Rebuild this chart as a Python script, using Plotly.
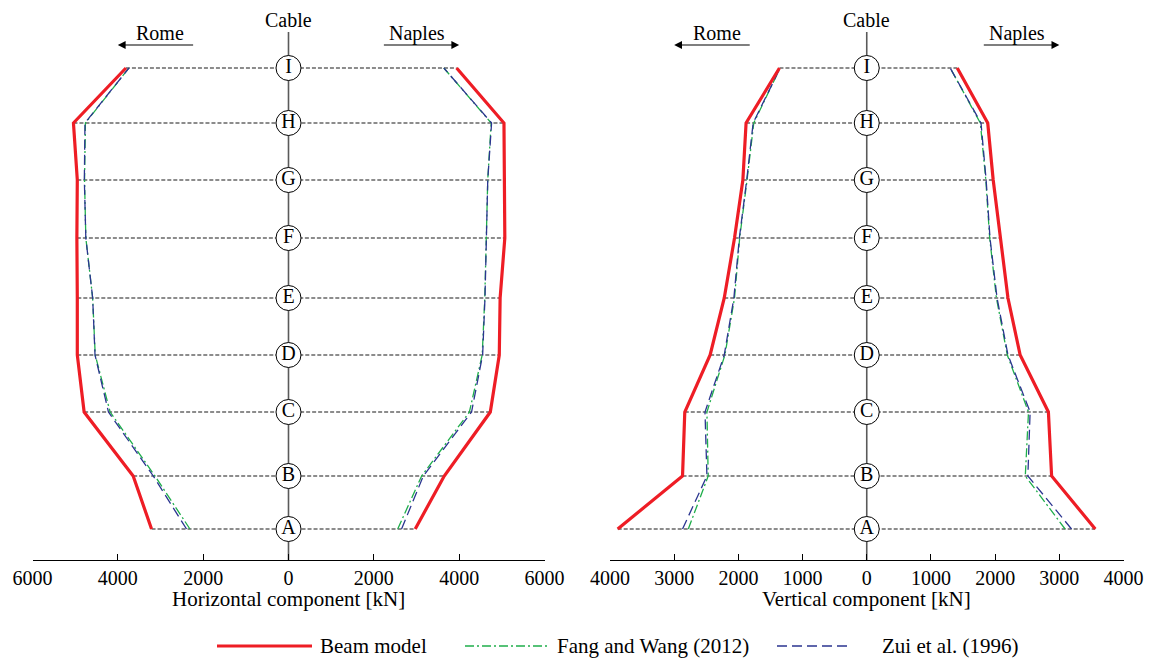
import plotly.graph_objects as go

# ---------------- data ----------------
cables = ["A", "B", "C", "D", "E", "F", "G", "H", "I"]
cable_height = [31, 84, 148, 205, 262, 322, 380, 437, 492]  # position along tower (arbitrary units)

# Horizontal component [kN]
beam_h_rome = [3210, 3640, 4790, 4950, 4950, 4960, 4950, 5040, 3810]
beam_h_naples = [2970, 3650, 4730, 4940, 4960, 5070, 5060, 5050, 3940]
fang_h_rome = [2310, 3130, 4180, 4530, 4590, 4750, 4780, 4760, 3740]
fang_h_naples = [2560, 3120, 4240, 4540, 4600, 4640, 4670, 4750, 3640]
zui_h_rome = [2390, 3170, 4220, 4535, 4590, 4750, 4785, 4770, 3740]
zui_h_naples = [2650, 3160, 4290, 4550, 4605, 4645, 4670, 4760, 3640]

# Vertical component [kN]
beam_v_rome = [3880, 2870, 2835, 2440, 2220, 2060, 1930, 1880, 1360]
beam_v_naples = [3560, 2880, 2830, 2390, 2200, 2080, 1970, 1885, 1410]
fang_v_rome = [2780, 2470, 2490, 2210, 2060, 1980, 1865, 1760, 1350]
fang_v_naples = [3090, 2470, 2520, 2190, 2020, 1915, 1855, 1770, 1300]
zui_v_rome = [2870, 2490, 2520, 2220, 2070, 1985, 1870, 1770, 1350]
zui_v_naples = [3190, 2510, 2545, 2200, 2030, 1920, 1860, 1780, 1300]

h_ticks = [-6000, -4000, -2000, 0, 2000, 4000, 6000]
v_ticks = [-4000, -3000, -2000, -1000, 0, 1000, 2000, 3000, 4000]

series_names = ["Beam model", "Fang and Wang (2012)", "Zui et al. (1996)"]

# ---------------- styles / layout ----------------
FONT = "Liberation Serif, Times New Roman, Times, serif"
FS = 20
FS_BIG = 21
RED = "#ee1d25"
GREEN = "#1fae4b"
BLUE = "#2b3590"
styles = [
    dict(color=RED, width=3.2, dash="solid"),
    dict(color=GREEN, width=1.3, dash="9px,3px,2px,3px"),
    dict(color=BLUE, width=1.3, dash="10px,5px"),
]
OFF = 8                      # page body margin of the html page
W, H = 1152 - OFF, 659 - OFF
PLOT_TOP = 32 - OFF
PLOT_BOTTOM = 560 - OFF
PLOT_H = PLOT_BOTTOM - PLOT_TOP
Y_TOP = PLOT_H


def px(page_x):
    return (page_x - OFF) / W


def py(page_y):
    return (PLOT_BOTTOM - (page_y - OFF)) / PLOT_H


fig = go.Figure()


def add_panel(xa, ya, beam_r, beam_n, fang_r, fang_n, zui_r, zui_n):
    for i, h in enumerate(cable_height):
        fig.add_trace(go.Scatter(
            x=[-beam_r[i], beam_n[i]], y=[h, h], mode="lines",
            line=dict(color="#1a1a1a", width=1.1, dash="4px,2px"),
            xaxis=xa, yaxis=ya, showlegend=False, hoverinfo="skip"))
    sets = [(beam_r, beam_n), (fang_r, fang_n), (zui_r, zui_n)]
    for k in [1, 2, 0]:
        r, n = sets[k]
        for side, vals in (("Rome", r), ("Naples", n)):
            sign = -1 if side == "Rome" else 1
            fig.add_trace(go.Scatter(
                x=[sign * v for v in vals], y=cable_height, mode="lines",
                line=styles[k], name=series_names[k], showlegend=False,
                xaxis=xa, yaxis=ya))
    fig.add_trace(go.Scatter(
        x=[0] * len(cables), y=cable_height, mode="markers+text",
        text=cables, textposition="middle center",
        textfont=dict(family=FONT, size=FS, color="black"),
        marker=dict(size=25, color="white", line=dict(color="black", width=1)),
        xaxis=xa, yaxis=ya, showlegend=False, hoverinfo="skip", cliponaxis=False))


add_panel("x", "y", beam_h_rome, beam_h_naples, fang_h_rome, fang_h_naples,
          zui_h_rome, zui_h_naples)
add_panel("x2", "y2", beam_v_rome, beam_v_naples, fang_v_rome, fang_v_naples,
          zui_v_rome, zui_v_naples)

axis_common = dict(
    showline=True, linecolor="black", linewidth=1, ticks="inside", ticklen=6,
    tickcolor="black", showgrid=False, zeroline=False, automargin=False,
    ticklabelstandoff=0,
    tickfont=dict(family=FONT, size=FS, color="black"),
)
fig.update_layout(
    width=W, height=H,
    margin=dict(l=0, r=0, t=PLOT_TOP, b=H - PLOT_BOTTOM, pad=0, autoexpand=False),
    paper_bgcolor="white", plot_bgcolor="white",
    font=dict(family=FONT, size=FS, color="black"),
    showlegend=False,
    xaxis=dict(domain=[px(32.5), px(544.5)], range=[-6000, 6000],
               tickvals=h_ticks, ticktext=[str(abs(t)) for t in h_ticks],
               anchor="y", **axis_common),
    xaxis2=dict(domain=[px(610), px(1123.5)], range=[-4000, 4000],
                tickvals=v_ticks, ticktext=[str(abs(t)) for t in v_ticks],
                anchor="y2", **axis_common),
    yaxis=dict(range=[0, Y_TOP], visible=False, anchor="x"),
    yaxis2=dict(range=[0, Y_TOP], visible=False, anchor="x2"),
)

shapes = []
annotations = []
for xa, ya, arrow_tip, arrow_tail, text_x in (
        ("x", "y", 4000, 2200, 3020),
        ("x2", "y2", 3000, 1800, 2340)):
    shapes.append(dict(type="line", xref=xa, yref=ya, x0=0, x1=0, y0=0, y1=Y_TOP,
                       line=dict(color="#5a5a5a", width=1.6), layer="below"))
    annotations.append(dict(xref=xa, yref="paper", x=0, y=py(20), yanchor="middle",
                            text="Cable", showarrow=False, font=dict(family=FONT, size=FS)))
    for sign, label in ((-1, "Rome"), (1, "Naples")):
        annotations.append(dict(xref=xa, yref="paper", x=sign * text_x, y=py(33),
                                yanchor="middle", text=label, showarrow=False,
                                font=dict(family=FONT, size=FS)))
        annotations.append(dict(xref=xa, yref="paper", x=sign * arrow_tip, y=py(45),
                                axref=xa, ayref="pixel", ax=sign * arrow_tail, ay=0,
                                text="", showarrow=True, arrowhead=2, arrowsize=1.3,
                                arrowwidth=1.2, arrowcolor="black", standoff=0))
annotations.append(dict(xref="x", yref="paper", x=0, y=py(599), yanchor="middle",
                        text="Horizontal component [kN]", showarrow=False,
                        font=dict(family=FONT, size=FS_BIG)))
annotations.append(dict(xref="x2", yref="paper", x=0, y=py(599), yanchor="middle",
                        text="Vertical component [kN]", showarrow=False,
                        font=dict(family=FONT, size=FS_BIG)))

# manual legend (line samples + labels), page pixel positions
legend_y = 646
legend_items = [(217, 312, 318), (465, 550, 555), (777, 849, 880)]
for k, (x0, x1, tx) in enumerate(legend_items):
    shapes.append(dict(type="line", xref="paper", yref="paper",
                       x0=px(x0), x1=px(x1), y0=py(legend_y), y1=py(legend_y),
                       line=styles[k]))
    annotations.append(dict(xref="paper", yref="paper", x=px(tx), y=py(legend_y),
                            xanchor="left", yanchor="middle", text=series_names[k],
                            showarrow=False, font=dict(family=FONT, size=FS_BIG)))

fig.update_layout(shapes=shapes, annotations=annotations)

fig.write_html("out.html")
